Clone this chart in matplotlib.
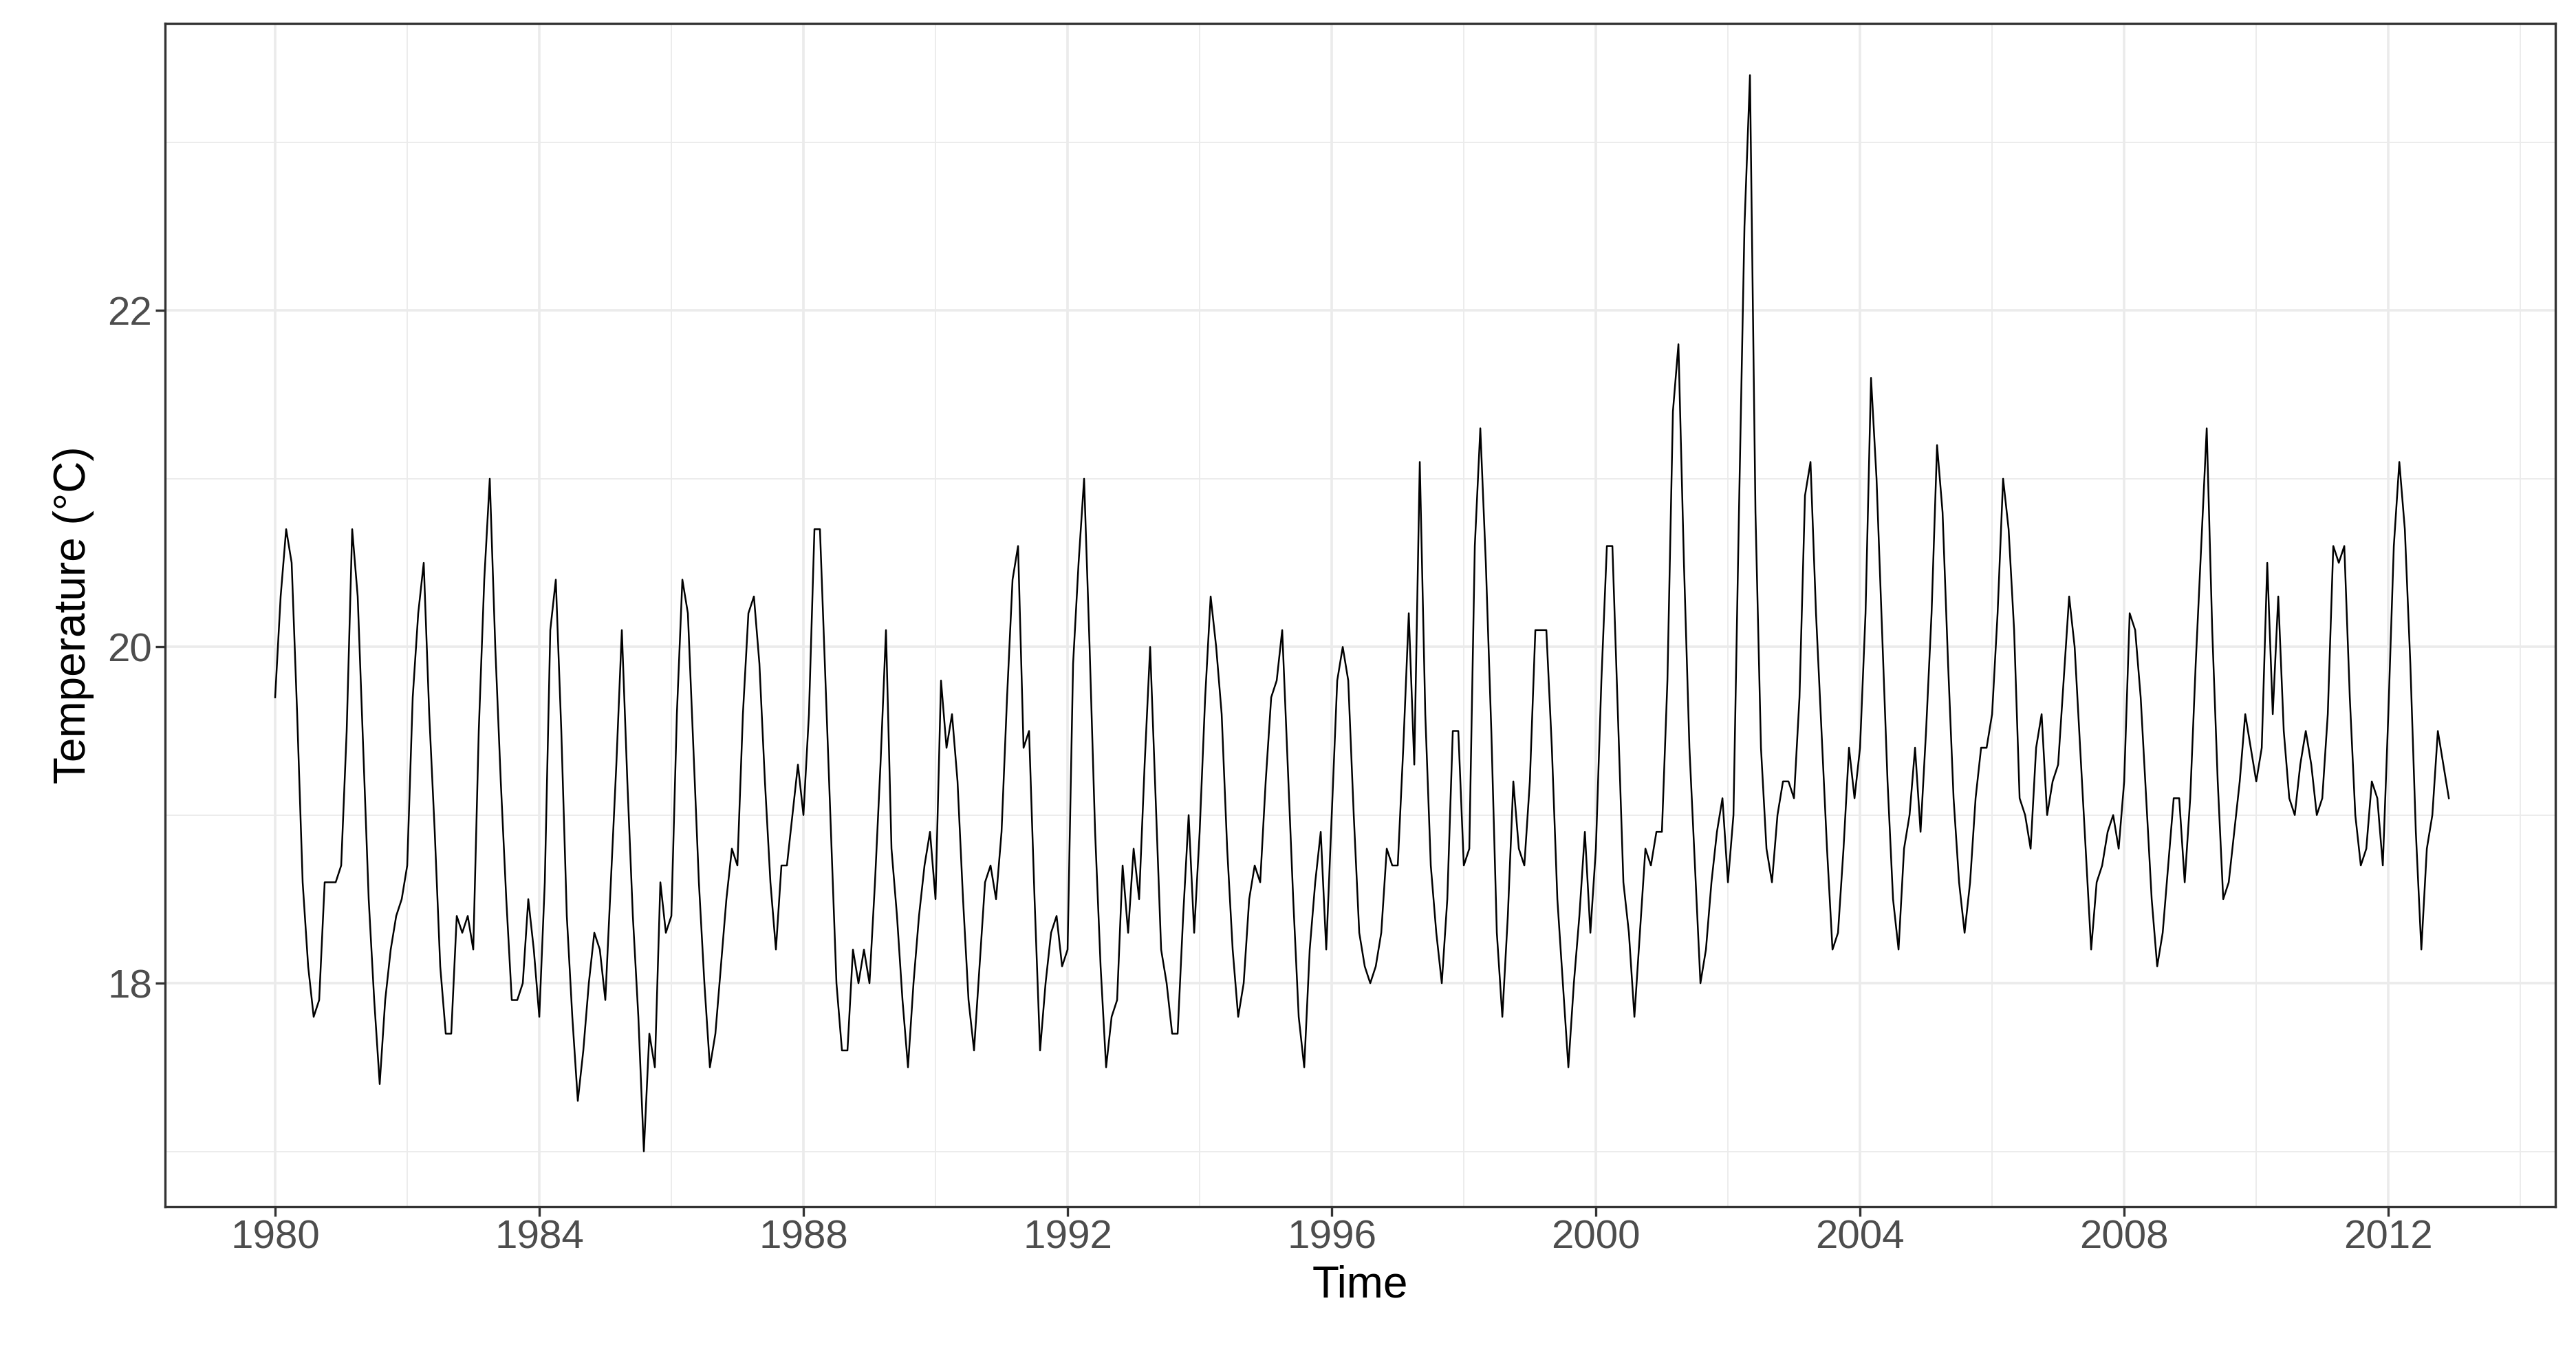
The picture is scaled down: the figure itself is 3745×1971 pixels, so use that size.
import matplotlib
matplotlib.use("Agg")
import matplotlib.pyplot as plt
import numpy as np

years = list(range(1980, 2013))
monthly = [
[19.7,20.3,20.7,20.5,19.6,18.6,18.1,17.8,17.9,18.6,18.6,18.6],
[18.7,19.5,20.7,20.3,19.4,18.5,17.9,17.4,17.9,18.2,18.4,18.5],
[18.7,19.7,20.2,20.5,19.6,18.9,18.1,17.7,17.7,18.4,18.3,18.4],
[18.2,19.5,20.4,21.0,20.0,19.2,18.5,17.9,17.9,18.0,18.5,18.2],
[17.8,18.6,20.1,20.4,19.5,18.4,17.8,17.3,17.6,18.0,18.3,18.2],
[17.9,18.6,19.3,20.1,19.2,18.4,17.8,17.0,17.7,17.5,18.6,18.3],
[18.4,19.6,20.4,20.2,19.4,18.6,18.0,17.5,17.7,18.1,18.5,18.8],
[18.7,19.6,20.2,20.3,19.9,19.2,18.6,18.2,18.7,18.7,19.0,19.3],
[19.0,19.6,20.7,20.7,19.8,18.9,18.0,17.6,17.6,18.2,18.0,18.2],
[18.0,18.6,19.3,20.1,18.8,18.4,17.9,17.5,18.0,18.4,18.7,18.9],
[18.5,19.8,19.4,19.6,19.2,18.5,17.9,17.6,18.1,18.6,18.7,18.5],
[18.9,19.7,20.4,20.6,19.4,19.5,18.5,17.6,18.0,18.3,18.4,18.1],
[18.2,19.9,20.5,21.0,20.0,18.9,18.1,17.5,17.8,17.9,18.7,18.3],
[18.8,18.5,19.3,20.0,19.1,18.2,18.0,17.7,17.7,18.4,19.0,18.3],
[18.9,19.7,20.3,20.0,19.6,18.8,18.2,17.8,18.0,18.5,18.7,18.6],
[19.2,19.7,19.8,20.1,19.3,18.5,17.8,17.5,18.2,18.6,18.9,18.2],
[19.0,19.8,20.0,19.8,19.0,18.3,18.1,18.0,18.1,18.3,18.8,18.7],
[18.7,19.4,20.2,19.3,21.1,19.6,18.7,18.3,18.0,18.5,19.5,19.5],
[18.7,18.8,20.6,21.3,20.5,19.5,18.3,17.8,18.4,19.2,18.8,18.7],
[19.2,20.1,20.1,20.1,19.4,18.5,18.0,17.5,18.0,18.4,18.9,18.3],
[18.8,19.8,20.6,20.6,19.6,18.6,18.3,17.8,18.3,18.8,18.7,18.9],
[18.9,19.8,21.4,21.8,20.5,19.4,18.7,18.0,18.2,18.6,18.9,19.1],
[18.6,19.0,20.8,22.5,23.4,20.8,19.4,18.8,18.6,19.0,19.2,19.2],
[19.1,19.7,20.9,21.1,20.2,19.5,18.8,18.2,18.3,18.8,19.4,19.1],
[19.4,20.2,21.6,21.0,20.1,19.2,18.5,18.2,18.8,19.0,19.4,18.9],
[19.5,20.2,21.2,20.8,19.9,19.1,18.6,18.3,18.6,19.1,19.4,19.4],
[19.6,20.2,21.0,20.7,20.1,19.1,19.0,18.8,19.4,19.6,19.0,19.2],
[19.3,19.8,20.3,20.0,19.4,18.8,18.2,18.6,18.7,18.9,19.0,18.8],
[19.2,20.2,20.1,19.7,19.1,18.5,18.1,18.3,18.7,19.1,19.1,18.6],
[19.1,19.9,20.6,21.3,20.1,19.2,18.5,18.6,18.9,19.2,19.6,19.4],
[19.2,19.4,20.5,19.6,20.3,19.5,19.1,19.0,19.3,19.5,19.3,19.0],
[19.1,19.6,20.6,20.5,20.6,19.7,19.0,18.7,18.8,19.2,19.1,18.7],
[19.6,20.6,21.1,20.7,19.9,18.9,18.2,18.8,19.0,19.5,19.3,19.1],
]
x_ticks = [1980,1984,1988,1992,1996,2000,2004,2008,2012]
y_ticks = [18,20,22]

t = np.array([y + m/12 for y in years for m in range(12)])
v = np.array([val for row in monthly for val in row])

plt.rcParams['font.family'] = ['Liberation Sans', 'DejaVu Sans']
fig = plt.figure(figsize=(37.45, 19.71), dpi=100)
ax = fig.add_axes([0.064, 0.11, 0.928, 0.873])
ax.plot(t, v, color='black', lw=1.8)
ax.set_xlim(1978.33, 2014.53)
ax.set_ylim(16.67, 23.71)
ax.set_xticks(x_ticks)
ax.set_xticklabels([str(x) for x in x_ticks])
ax.set_xticks([1982+4*i for i in range(9)], minor=True)
ax.set_yticks(y_ticks)
ax.set_yticks([17,19,21,23], minor=True)
ax.grid(True, which='major', color='#ebebeb', lw=2.6)
ax.grid(True, which='minor', color='#ebebeb', lw=1.3)
ax.set_axisbelow(True)
for s in ax.spines.values():
    s.set_color('#333333'); s.set_linewidth(2.4)
ax.tick_params(which='major', labelsize=42, colors='#333333', length=10, width=2.4, labelcolor='#4d4d4d')
ax.tick_params(which='minor', length=0)
ax.set_xlabel('Time', fontsize=46, labelpad=8)
ax.set_ylabel('Temperature (°C)', fontsize=46, labelpad=14)
fig.savefig('out.png', dpi=100)
